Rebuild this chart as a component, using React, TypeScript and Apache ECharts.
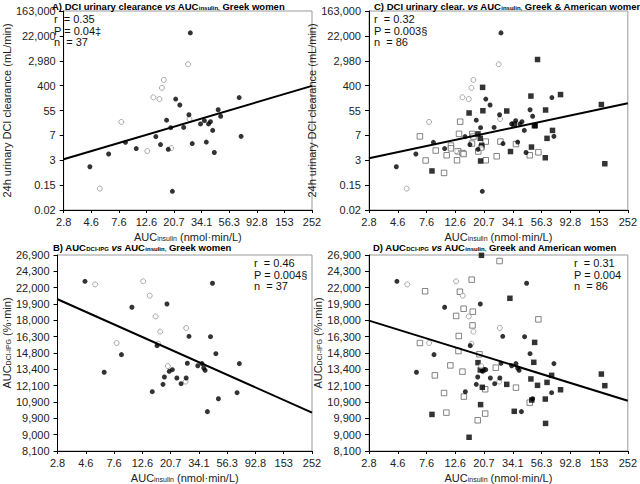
import React, { useEffect, useRef } from "react";
import * as echarts from "echarts";

// Axis tick labels (axes are logarithmic; values below are positions in tick steps)
const xLabels = ["2.8", "4.6", "7.6", "12.6", "20.7", "34.1", "56.3", "92.8", "153", "252"];
const yClearLabels = ["0.02", "0.15", "3", "7", "55", "400", "2,980", "22,000", "163,000"];
const yAucLabels = ["8,100", "9,000", "9,900", "10,900", "12,100", "13,400", "14,800", "16,300", "18,000", "19,900", "22,000", "24,300", "26,900"];

// Panel A / C: Greek women, DCI urinary clearance
const greekFilledClear = [[0.95,1.74],[1.63,2.25],[2.24,2.72],[2.63,2.47],[3.34,2.95],[3.51,2.63],[3.73,3.61],[3.79,2.44],[3.88,3.31],[3.94,0.75],[4.06,4.46],[4.21,4.22],[4.35,3.32],[4.54,3.83],[4.59,7.12],[4.66,2.67],[4.96,3.46],[5.10,3.59],[5.17,2.73],[5.25,3.46],[5.32,3.55],[5.40,3.20],[5.46,2.31],[5.60,4.03],[5.69,3.77],[6.36,4.52],[6.43,2.96]];
const greekOpenClear = [[1.31,0.86],[2.09,3.54],[3.03,2.37],[3.25,4.53],[3.47,4.46],[3.56,4.91],[3.63,5.23],[3.90,2.49],[4.51,5.86],[4.56,3.66]];
// Panel C: American women
const usOpenClear = [[1.77,2.96],[1.97,1.99],[2.32,2.39],[2.61,1.49],[2.70,2.20],[2.85,2.59],[2.85,2.48],[3.06,2.00],[3.10,2.36],[3.13,3.06],[3.17,3.55],[3.25,2.29],[3.29,2.25],[3.59,3.06],[3.63,2.95],[3.58,2.67],[3.80,2.35],[3.91,2.52],[4.06,2.75],[4.06,2.00],[4.44,2.16],[4.57,2.75],[5.11,2.65],[5.59,2.20],[5.89,2.32]];
const usFilledClear = [[2.19,1.57],[3.48,3.90],[3.79,3.06],[3.87,2.88],[3.88,1.97],[3.92,2.60],[3.95,4.93],[3.96,3.99],[4.79,3.98],[4.92,2.35],[5.05,3.45],[5.63,4.58],[5.65,2.53],[5.75,3.39],[5.78,3.39],[5.86,6.05],[6.14,4.02],[6.13,2.10],[6.19,2.88],[6.38,3.20],[6.66,4.64],[8.08,4.24],[8.20,1.86]];

// Panel B / D: Greek women, AUC DCI-IPG
const greekFilledAuc = [[0.97,10.39],[1.65,4.82],[2.26,5.90],[2.63,8.80],[3.35,3.63],[3.52,6.45],[3.73,4.08],[3.78,4.53],[3.87,9.00],[3.95,4.88],[4.06,4.98],[4.22,4.47],[4.37,4.12],[4.55,4.47],[4.59,5.37],[4.65,7.02],[4.96,5.22],[5.11,5.35],[5.17,5.08],[5.22,4.94],[5.30,2.41],[5.41,7.00],[5.48,10.27],[5.60,5.96],[5.69,3.20],[6.35,3.57],[6.43,5.35]];
const greekOpenAuc = [[1.33,10.20],[2.09,6.61],[3.03,10.39],[3.26,9.51],[3.47,8.24],[3.56,6.57],[3.63,7.31],[3.90,5.20],[4.55,7.53],[4.53,4.25]];
// Panel D: American women
const usOpenAuc = [[1.77,6.61],[1.95,9.78],[2.29,4.63],[2.61,3.55],[2.69,2.35],[2.83,5.24],[3.03,8.27],[3.12,7.04],[3.11,6.12],[3.16,9.75],[3.25,4.86],[3.29,8.71],[3.30,3.33],[3.57,10.49],[3.61,8.53],[3.60,7.69],[3.84,5.92],[3.78,1.88],[4.04,3.78],[4.04,2.29],[4.41,5.10],[4.54,11.63],[5.11,3.88],[5.59,2.96],[5.89,8.06]];
const usFilledAuc = [[2.19,2.24],[3.48,0.84],[3.79,5.41],[3.87,4.96],[3.88,2.84],[3.91,11.98],[3.94,3.90],[3.96,4.98],[4.79,4.08],[4.90,9.35],[5.05,2.43],[5.63,4.41],[5.66,3.12],[5.73,5.43],[5.76,6.65],[5.86,4.02],[6.13,3.18],[6.14,1.69],[6.19,4.20],[6.35,4.63],[6.66,3.75],[8.08,4.71],[8.20,4.00]];

// Regression lines (endpoints at axis extremes)
const fitA = [[0, 2.04], [9, 4.99]];
const fitC = [[0, 2.08], [9, 4.29]];
const fitB = [[0, 9.29], [9, 2.35]];
const fitD = [[0, 7.98], [9, 3.08]];

const FONT = "'Liberation Sans', Arial, sans-serif";

type Kind = "fc" | "oc" | "fs" | "os";

function scatter(data: number[][], idx: number, kind: Kind) {
  const isSq = kind === "fs" || kind === "os";
  const filled = kind === "fc" || kind === "fs";
  return {
    type: "scatter",
    xAxisIndex: idx,
    yAxisIndex: idx,
    data,
    symbol: isSq ? "rect" : "circle",
    symbolSize: isSq ? 5.5 : 5,
    itemStyle: filled
      ? { color: "#000" }
      : { color: "#fff", borderColor: isSq ? "#555" : "#888", borderWidth: 0.9 },
    z: 3,
  };
}

function fit(data: number[][], idx: number) {
  return {
    type: "line",
    xAxisIndex: idx,
    yAxisIndex: idx,
    data,
    symbol: "none",
    lineStyle: { color: "#000", width: 2 },
    z: 4,
  };
}

export default function App() {
  const ref = useRef<HTMLDivElement>(null);
  useEffect(() => {
    document.body.style.margin = "0";
    const chart = echarts.init(ref.current!, undefined, { renderer: "svg" });
    const grids = [
      { left: 49, top: 11, width: 263, height: 199 },
      { left: 369, top: 11, width: 263, height: 199 },
      { left: 49, top: 255, width: 263, height: 204 },
      { left: 369, top: 255, width: 263, height: 204 },
    ].map((g) => ({ ...g, show: true, borderColor: "#999", borderWidth: 1, backgroundColor: "transparent" }));

    const axisText = { fontSize: 11, color: "#222", fontFamily: FONT };
    const subRich = {
      sub: { fontSize: 7, fontFamily: FONT, color: "#222", verticalAlign: "bottom", padding: [3, 0, 0, 0] },
    };
    const xAxis = [0, 1, 2, 3].map((i) => ({
      type: "value",
      gridIndex: i,
      min: 0,
      max: 9,
      interval: 1,
      axisLine: { show: true, lineStyle: { color: "#000", width: 1 } },
      axisTick: { show: true, length: 3, lineStyle: { color: "#000" } },
      splitLine: { show: false },
      axisLabel: { ...axisText, margin: 6, formatter: (v: number) => xLabels[Math.round(v)] },
      name: "AUC{sub|insulin} (nmol·min/L)",
      nameLocation: "middle",
      nameGap: 21,
      nameTextStyle: { ...axisText, rich: subRich },
    }));
    const yAxis = [0, 1, 2, 3].map((i) => {
      const top = i < 2;
      const labels = top ? yClearLabels : yAucLabels;
      return {
        type: "value",
        gridIndex: i,
        min: 0,
        max: top ? 8 : 12,
        interval: 1,
        axisLine: { show: true, lineStyle: { color: "#000", width: 1 } },
        axisTick: { show: true, length: 4, lineStyle: { color: "#000" } },
        splitLine: { show: false },
        axisLabel: { ...axisText, margin: 8, formatter: (v: number) => labels[Math.round(v)] },
        name: top ? "24h urinary DCI clearance (mL/min)" : "AUC{sub|DCI-IPG} (%·min)",
        nameLocation: "middle",
        nameGap: 38,
        nameTextStyle: { ...axisText, rich: subRich, padding: top ? 0 : [0, 0, 0, 20] },
      };
    });

    const titleStyle = {
      fontSize: 9.5,
      fontWeight: "bold",
      color: "#000",
      fontFamily: FONT,
      rich: {
        it: { fontSize: 9.5, fontWeight: "bold", fontStyle: "italic", color: "#000", fontFamily: FONT },
        sub: { fontSize: 6, fontWeight: "bold", color: "#000", fontFamily: FONT, verticalAlign: "bottom", padding: [3, 0, 0, 0] },
      },
    };
    const title = [
      { text: "A) DCI urinary clearance {it|vs} AUC{sub|insulin,} Greek women", left: 52, top: 1 },
      { text: "C) DCI urinary clear. {it|vs} AUC{sub|insulin,} Greek & American women", left: 374, top: 1 },
      { text: "B) AUC{sub|DCI-IPG} {it|vs} AUC{sub|insulin,} Greek women", left: 53, top: 242 },
      { text: "D) AUC{sub|DCI-IPG} {it|vs} AUC{sub|insulin,} Greek and American women", left: 373, top: 242 },
    ].map((t) => ({ ...t, textStyle: titleStyle, padding: 0 }));

    const stat = (x: number, y: number, lines: string[]) =>
      lines.map((t, k) => ({
        type: "text",
        x,
        y: y + k * 11.5,
        style: { text: t, font: `11px ${FONT}`, fill: "#111", verticalAlign: "middle", align: "left" },
      }));

    chart.setOption({
      animation: false,
      title,
      grid: grids,
      xAxis,
      yAxis,
      graphic: [
        ...stat(54, 19, ["r  = 0.35", "P = 0.04‡", "n  = 37"]),
        ...stat(374, 19, ["r  = 0.32", "P = 0.003§", "n  = 86"]),
        ...stat(254, 263, ["r  = 0.46", "P = 0.004§", "n  = 37"]),
        ...stat(574, 263, ["r  = 0.31", "P = 0.004", "n  = 86"]),
      ],
      series: [
        scatter(greekOpenClear, 0, "oc"),
        scatter(greekFilledClear, 0, "fc"),
        fit(fitA, 0),
        scatter(usOpenClear, 1, "os"),
        scatter(usFilledClear, 1, "fs"),
        scatter(greekOpenClear, 1, "oc"),
        scatter(greekFilledClear, 1, "fc"),
        fit(fitC, 1),
        scatter(greekOpenAuc, 2, "oc"),
        scatter(greekFilledAuc, 2, "fc"),
        fit(fitB, 2),
        scatter(usOpenAuc, 3, "os"),
        scatter(usFilledAuc, 3, "fs"),
        scatter(greekOpenAuc, 3, "oc"),
        scatter(greekFilledAuc, 3, "fc"),
        fit(fitD, 3),
      ],
    });
    return () => chart.dispose();
  }, []);
  return <div ref={ref} style={{ width: 640, height: 484 }} />;
}
